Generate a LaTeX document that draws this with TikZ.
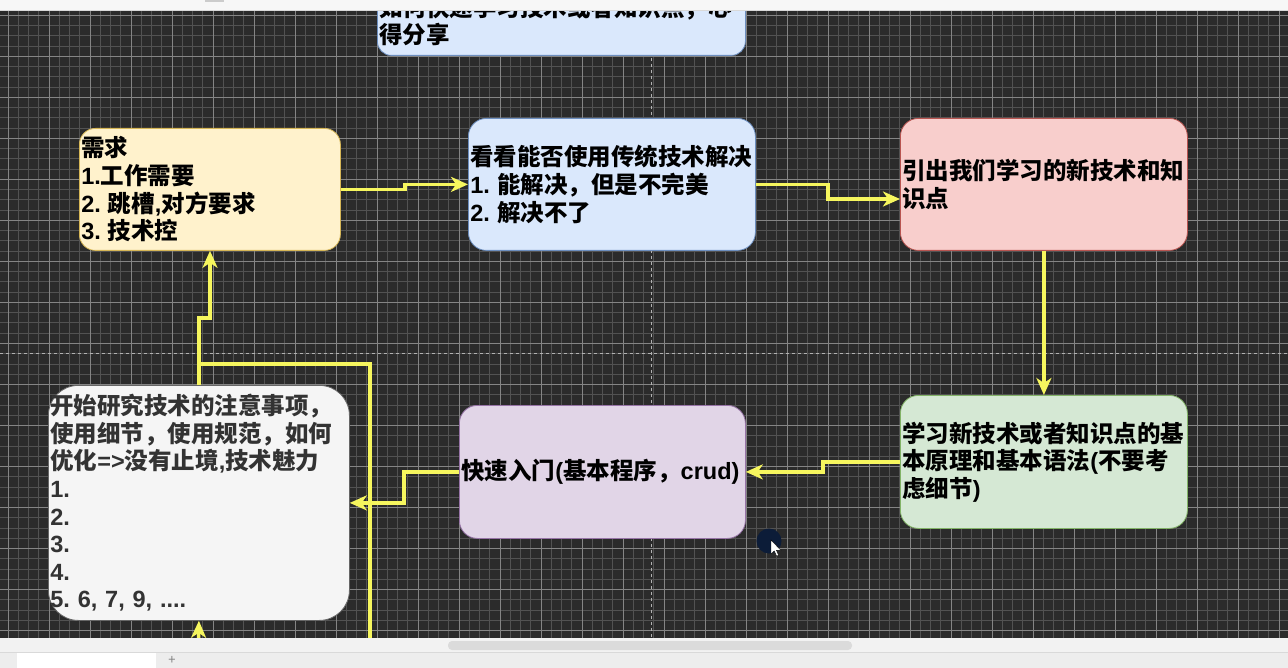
\documentclass[tikz,border=0pt]{standalone}
\usepackage{fontspec}
\setmainfont{Noto Sans CJK SC}
\newfontfamily\lat{Liberation Sans}
\usetikzlibrary{arrows.meta,calc}
\frenchspacing
\definecolor{canvasbg}{HTML}{2B2B2B}
\definecolor{gridminor}{HTML}{525252}
\definecolor{gridmajor}{HTML}{858585}
\definecolor{flowcol}{HTML}{F6F65E}
\definecolor{bluefill}{HTML}{DAE8FC}\definecolor{bluedraw}{HTML}{6C8EBF}
\definecolor{yelfill}{HTML}{FFF2CC}\definecolor{yeldraw}{HTML}{D6B656}
\definecolor{redfill}{HTML}{F8CECC}\definecolor{reddraw}{HTML}{B85450}
\definecolor{grnfill}{HTML}{D5E8D4}\definecolor{grndraw}{HTML}{82B366}
\definecolor{purfill}{HTML}{E1D5E7}\definecolor{purdraw}{HTML}{9673A6}
\definecolor{grayfill}{HTML}{F5F5F5}\definecolor{graydraw}{HTML}{666666}
\definecolor{notetext}{HTML}{333333}
\tikzset{
  blk/.style={draw, line width=0.8pt, anchor=north west, align=left,
    inner xsep=2pt, inner ysep=0pt, text=black,
    font=\bfseries\frenchspacing\fontsize{23.5}{27.6}\selectfont},
  flow/.style={draw=flowcol, line width=3.4pt,
    -{Stealth[length=17pt,width=15pt,inset=5pt]}},
  flowplain/.style={draw=flowcol, line width=3.4pt},
  gmin/.style={draw=gridminor, line width=0.6pt},
  gmaj/.style={draw=gridmajor, line width=0.8pt},
  pagebreak/.style={draw=white!70!black, line width=0.8pt, dash pattern=on 3pt off 3pt}
}
\newcommand{\gp}{\hspace{7pt}}
\begin{document}
\begin{tikzpicture}[x=1pt,y=-1pt]
\useasboundingbox (0,0) rectangle (1288,668);
% canvas and grid
\begin{scope}
  \clip (0,10) rectangle (1288,638);
  \fill[canvasbg] (0,10) rectangle (1288,638);
  \foreach \i [evaluate=\i as \xx using -2.25+10.25*\i] in {0,...,126}
    \draw[gmin] (\xx,10) -- (\xx,638);
  \foreach \j [evaluate=\j as \yy using 5.05+10.25*\j] in {0,...,62}
    \draw[gmin] (0,\yy) -- (1288,\yy);
  \foreach \i [evaluate=\i as \xx using -33+41*\i] in {0,...,32}
    \draw[gmaj] (\xx,10) -- (\xx,638);
  \foreach \j [evaluate=\j as \yy using -25.7+41*\j] in {0,...,16}
    \draw[gmaj] (0,\yy) -- (1288,\yy);
  \draw[pagebreak] (651,10) -- (651,638);
  \draw[pagebreak] (0,353) -- (1288,353);
\end{scope}

% nodes
\node[blk, fill=bluefill, draw=bluedraw, rounded corners=14pt,
  minimum width=368pt, minimum height=69pt, text width=364pt] (top) at (377,-14)
  {如何快速学习技术或者知识点，心\\得分享};
\node[blk, fill=yelfill, draw=yeldraw, rounded corners=16pt,
  minimum width=261pt, minimum height=122pt, text width=257pt] (req) at (79,128)
  {需求\\{\lat 1.}工作需要\\{\lat 2.}\gp 跳槽{\lat ,}对方要求\\{\lat 3.}\gp 技术控};
\node[blk, fill=bluefill, draw=bluedraw, rounded corners=18pt,
  minimum width=287pt, minimum height=132pt, text width=283pt] (look) at (468,118)
  {看看能否使用传统技术解决\\{\lat 1.}\gp 能解决，但是不完美\\{\lat 2.}\gp 解决不了};
\node[blk, fill=redfill, draw=reddraw, rounded corners=18pt,
  minimum width=287pt, minimum height=132pt, text width=283pt] (intro) at (900,118)
  {引出我们学习的新技术和知\\识点};
\node[blk, fill=grnfill, draw=grndraw, rounded corners=18pt,
  minimum width=287pt, minimum height=133pt, text width=283pt] (learn) at (900,395)
  {学习新技术或者知识点的基\\本原理和基本语法{\lat (}不要考\\虑细节{\lat )}};
\node[blk, fill=purfill, draw=purdraw, rounded corners=18pt,
  minimum width=286pt, minimum height=133pt, text width=282pt] (quick) at (459,405)
  {快速入门{\lat (}基本程序，{\lat crud)}};
\node[blk, fill=grayfill, draw=graydraw, rounded corners=30pt, text=notetext,
  minimum width=301pt, minimum height=235pt, text width=297pt] (note) at (48,385)
  {开始研究技术的注意事项，\\使用细节，使用规范，如何\\优化{\lat =>}没有止境{\lat ,}技术魅力\\{\lat 1.}\\{\lat 2.}\\{\lat 3.}\\{\lat 4.}\\{\lat 5. 6, 7, 9, ....}};

% helper coordinates
\coordinate (j1) at (405,0);
\coordinate (j2) at (828,199);
\coordinate (j3) at (823,0);
\coordinate (j4) at (404,0);
\coordinate (j5) at (210,318);
\coordinate (m1) at (198.5,364);
\coordinate (b1) at (370,645);
\coordinate (b2) at (198.5,645);

% connectors
\draw[flow] (req.east) -- (req.east -| j1) -- (j1 |- look.west) -- (look.west);
\draw[flow] (look.east) -- (look.east -| j2) -- (j2) -- (j2 -| intro.west);
\draw[flow] (intro.south) -- (learn.north);
\draw[flow] (learn.west) -- (learn.west -| j3) -- (j3 |- quick.east) -- (quick.east);
\draw[flow] (quick.west) -- (quick.west -| j4) -- (j4 |- note.east) -- (note.east);
\draw[flow] (note.north) -- (note.north |- j5) -- (j5) -- (j5 |- req.south);
\draw[flowplain] (b1) |- (m1);
\draw[flow] (b2) -- (note.south);

% cursor highlight
\fill[fill={rgb,255:red,12;green,28;blue,56}] (769,541) circle (12.5);
\draw[fill=white, draw=black, line width=0.4pt] (771,540) -- (771,554) -- (774.3,551) -- (776.6,556.2) -- (778.6,555.3) -- (776.4,550.2) -- (780.8,550.2) -- cycle;

% top toolbar
\fill[white!97!black] (0,0) rectangle (1288,10);
\fill[white!80!black] (205,0) rectangle (224,2.5);
\draw[white!85!black, line width=0.6pt] (0,10) -- (1288,10);

% bottom bars
\fill[white!95!black] (0,638) rectangle (1288,652);
\fill[white!86!black, rounded corners=4pt] (448,641) rectangle (852,650);
\fill[white!93!black] (0,652) rectangle (1288,668);
\draw[white!85!black, line width=0.6pt] (0,652) -- (1288,652);
\fill[white] (17,653) rectangle (156,668);
\node[text=white!50!black, font=\fontsize{13}{13}\selectfont, inner sep=0pt] (plus) at (172,660) {+};
\end{tikzpicture}
\end{document}
